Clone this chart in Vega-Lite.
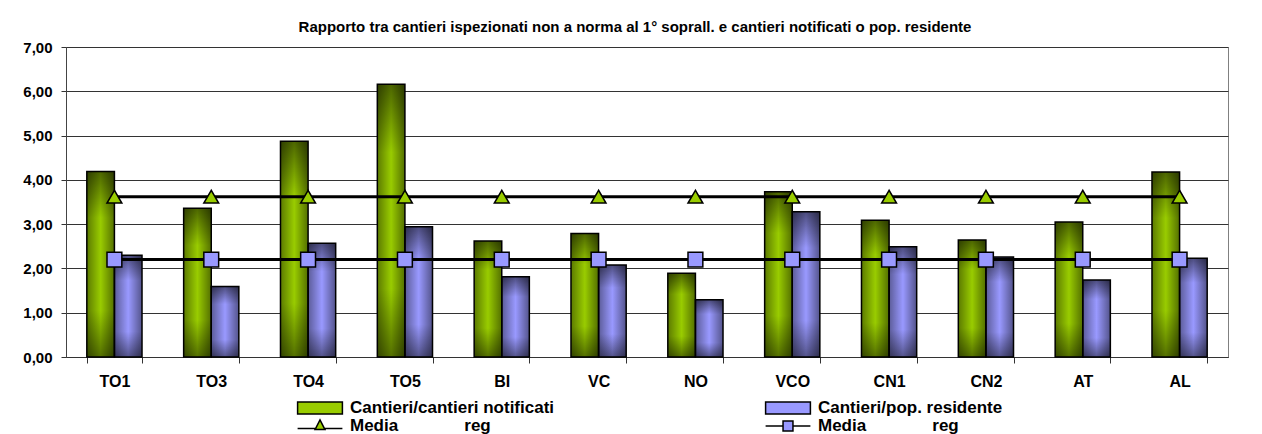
{
  "$schema": "https://vega.github.io/schema/vega-lite/v6.json",
  "width": 1162,
  "height": 310,
  "autosize": {"type": "none"},
  "padding": {"left": 66, "top": 47, "right": 34, "bottom": 77},
  "background": "white",
  "title": {
    "text": "Rapporto tra cantieri ispezionati non a norma al 1° soprall. e cantieri notificati o pop. residente",
    "font": "Liberation Sans",
    "fontSize": 15,
    "fontWeight": "bold",
    "color": "black",
    "anchor": "middle",
    "offset": 5,
    "dx": -12
  },
  "config": {
    "view": {"stroke": "#808080", "strokeWidth": 1},
    "font": "Liberation Sans"
  },
  "datasets": {
    "bars": [
      {"reg": "TO1", "serie": "Cantieri/cantieri notificati", "v": 4.19},
      {"reg": "TO1", "serie": "Cantieri/pop. residente", "v": 2.30},
      {"reg": "TO3", "serie": "Cantieri/cantieri notificati", "v": 3.36},
      {"reg": "TO3", "serie": "Cantieri/pop. residente", "v": 1.59},
      {"reg": "TO4", "serie": "Cantieri/cantieri notificati", "v": 4.87},
      {"reg": "TO4", "serie": "Cantieri/pop. residente", "v": 2.57},
      {"reg": "TO5", "serie": "Cantieri/cantieri notificati", "v": 6.16},
      {"reg": "TO5", "serie": "Cantieri/pop. residente", "v": 2.94},
      {"reg": "BI", "serie": "Cantieri/cantieri notificati", "v": 2.62},
      {"reg": "BI", "serie": "Cantieri/pop. residente", "v": 1.81},
      {"reg": "VC", "serie": "Cantieri/cantieri notificati", "v": 2.79},
      {"reg": "VC", "serie": "Cantieri/pop. residente", "v": 2.08},
      {"reg": "NO", "serie": "Cantieri/cantieri notificati", "v": 1.89},
      {"reg": "NO", "serie": "Cantieri/pop. residente", "v": 1.29},
      {"reg": "VCO", "serie": "Cantieri/cantieri notificati", "v": 3.73},
      {"reg": "VCO", "serie": "Cantieri/pop. residente", "v": 3.28},
      {"reg": "CN1", "serie": "Cantieri/cantieri notificati", "v": 3.09},
      {"reg": "CN1", "serie": "Cantieri/pop. residente", "v": 2.49},
      {"reg": "CN2", "serie": "Cantieri/cantieri notificati", "v": 2.64},
      {"reg": "CN2", "serie": "Cantieri/pop. residente", "v": 2.26},
      {"reg": "AT", "serie": "Cantieri/cantieri notificati", "v": 3.05},
      {"reg": "AT", "serie": "Cantieri/pop. residente", "v": 1.74},
      {"reg": "AL", "serie": "Cantieri/cantieri notificati", "v": 4.18},
      {"reg": "AL", "serie": "Cantieri/pop. residente", "v": 2.23}
    ],
    "media": [
      {"reg": "TO1", "serie": "Media reg (notificati)", "v": 3.62},
      {"reg": "TO3", "serie": "Media reg (notificati)", "v": 3.62},
      {"reg": "TO4", "serie": "Media reg (notificati)", "v": 3.62},
      {"reg": "TO5", "serie": "Media reg (notificati)", "v": 3.62},
      {"reg": "BI", "serie": "Media reg (notificati)", "v": 3.62},
      {"reg": "VC", "serie": "Media reg (notificati)", "v": 3.62},
      {"reg": "NO", "serie": "Media reg (notificati)", "v": 3.62},
      {"reg": "VCO", "serie": "Media reg (notificati)", "v": 3.62},
      {"reg": "CN1", "serie": "Media reg (notificati)", "v": 3.62},
      {"reg": "CN2", "serie": "Media reg (notificati)", "v": 3.62},
      {"reg": "AT", "serie": "Media reg (notificati)", "v": 3.62},
      {"reg": "AL", "serie": "Media reg (notificati)", "v": 3.62},
      {"reg": "TO1", "serie": "Media reg (pop.)", "v": 2.20},
      {"reg": "TO3", "serie": "Media reg (pop.)", "v": 2.20},
      {"reg": "TO4", "serie": "Media reg (pop.)", "v": 2.20},
      {"reg": "TO5", "serie": "Media reg (pop.)", "v": 2.20},
      {"reg": "BI", "serie": "Media reg (pop.)", "v": 2.20},
      {"reg": "VC", "serie": "Media reg (pop.)", "v": 2.20},
      {"reg": "NO", "serie": "Media reg (pop.)", "v": 2.20},
      {"reg": "VCO", "serie": "Media reg (pop.)", "v": 2.20},
      {"reg": "CN1", "serie": "Media reg (pop.)", "v": 2.20},
      {"reg": "CN2", "serie": "Media reg (pop.)", "v": 2.20},
      {"reg": "AT", "serie": "Media reg (pop.)", "v": 2.20},
      {"reg": "AL", "serie": "Media reg (pop.)", "v": 2.20}
    ]
  },
  "encoding": {
    "x": {
      "field": "reg",
      "type": "nominal",
      "sort": ["TO1", "TO3", "TO4", "TO5", "BI", "VC", "NO", "VCO", "CN1", "CN2", "AT", "AL"],
      "scale": {"paddingInner": 0.43, "paddingOuter": 0.215},
      "axis": {
        "title": null,
        "labelAngle": 0,
        "labelFont": "Liberation Sans",
        "labelFontSize": 16,
        "labelFontWeight": "bold",
        "labelColor": "black",
        "labelPadding": 10,
        "tickBand": "extent",
        "tickSize": 6,
        "tickColor": "#333333",
        "domainColor": "#333333",
        "grid": false
      }
    },
    "y": {
      "field": "v",
      "type": "quantitative",
      "scale": {"domain": [0, 7]},
      "axis": {
        "title": null,
        "values": [0, 1, 2, 3, 4, 5, 6, 7],
        "labelExpr": "replace(format(datum.value, '.2f'), '.', ',')",
        "labelFont": "Liberation Sans",
        "labelFontSize": 15,
        "labelFontWeight": "bold",
        "labelColor": "black",
        "labelPadding": 9,
        "tickSize": 5,
        "tickColor": "#333333",
        "domainColor": "#444444",
        "grid": true,
        "gridColor": "#333333",
        "gridWidth": 1,
        "gridOpacity": 1
      }
    }
  },
  "layer": [
    {
      "data": {"name": "bars"},
      "mark": {"type": "bar"},
      "encoding": {
        "xOffset": {"field": "serie", "type": "nominal", "scale": {"domain": ["Cantieri/cantieri notificati", "Cantieri/pop. residente"], "paddingInner": 0, "paddingOuter": 0}},
        "fill": {
          "field": "serie",
          "type": "nominal",
          "scale": {
            "domain": ["Cantieri/cantieri notificati", "Cantieri/pop. residente", "Media reg (notificati)", "Media reg (pop.)"],
            "range": ["#99cc00", "#9999ff", "#99cc00", "#9999ff"]
          },
          "legend": {
            "title": null,
            "orient": "none",
            "legendX": 245,
            "legendY": 352,
            "direction": "horizontal",
            "columns": 2,
            "columnPadding": 207,
            "rowPadding": 0,
            "symbolSize": 256,
            "labelOffset": 21,
            "labelFont": "Liberation Sans",
            "labelFontSize": 17,
            "labelFontWeight": "bold",
            "labelColor": "black",
            "labelLimit": 400,
            "labelExpr": "indexof(datum.label, 'Media') === 0 ? 'Media\u00a0\u00a0\u00a0\u00a0\u00a0\u00a0\u00a0\u00a0\u00a0\u00a0\u00a0\u00a0\u00a0\u00a0reg' : datum.label",
            "encode": {
              "symbols": {
                "update": {
                  "shape": {"signal": "indexof(datum.value, 'Cantieri') === 0 ? 'M-2.8,-0.75H2.8V0.75H-2.8Z' : (datum.value === 'Media reg (notificati)' ? 'M-2.8,0.3H-0.62M0.62,0.3H2.8M-0.62,0.45L0,-0.75L0.62,0.45Z' : 'M-2.8,0H-0.62M0.62,0H2.8M-0.62,-0.62H0.62V0.62H-0.62Z')"},
                  "fill": {"signal": "datum.value === 'Cantieri/cantieri notificati' ? '#7aa300' : (datum.value === 'Cantieri/pop. residente' ? '#7676c8' : (datum.value === 'Media reg (notificati)' ? '#99cc00' : '#9999ff'))"},
                  "stroke": {"value": "black"},
                  "strokeWidth": {"value": 1.5},
                  "opacity": {"value": 1},
                  "fillOpacity": {"value": 1}
                }
              }
            }
          }
        }
      }
    },
    {
      "data": {"name": "bars"},
      "mark": {
        "type": "bar",
        "fill": {"gradient": "linear", "x1": 0, "y1": 0, "x2": 0, "y2": 1, "stops": [
          {"offset": 0, "color": "rgba(0,0,0,0.5)"},
          {"offset": 0.25, "color": "rgba(0,0,0,0)"},
          {"offset": 0.75, "color": "rgba(0,0,0,0)"},
          {"offset": 1, "color": "rgba(0,0,0,0.45)"}
        ]}
      },
      "encoding": {
        "xOffset": {"field": "serie", "type": "nominal"}
      }
    },
    {
      "data": {"name": "bars"},
      "mark": {
        "type": "bar",
        "stroke": "black",
        "strokeWidth": 1.5,
        "fill": {"gradient": "linear", "x1": 0, "y1": 0, "x2": 1, "y2": 0, "stops": [
          {"offset": 0, "color": "rgba(0,0,0,0.4)"},
          {"offset": 0.5, "color": "rgba(0,0,0,0)"},
          {"offset": 1, "color": "rgba(0,0,0,0.45)"}
        ]}
      },
      "encoding": {
        "xOffset": {"field": "serie", "type": "nominal"}
      }
    },
    {
      "data": {"name": "media"},
      "mark": {"type": "line", "color": "black", "strokeWidth": 3},
      "encoding": {
        "detail": {"field": "serie", "type": "nominal"}
      }
    },
    {
      "data": {"name": "media"},
      "mark": {"type": "point", "filled": true, "stroke": "black", "strokeWidth": 1.5, "size": 220, "opacity": 1},
      "encoding": {
        "fill": {"field": "serie", "type": "nominal"},
        "shape": {
          "field": "serie",
          "type": "nominal",
          "scale": {"domain": ["Media reg (notificati)", "Media reg (pop.)"], "range": ["triangle-up", "square"]},
          "legend": null
        }
      }
    }
  ]
}
